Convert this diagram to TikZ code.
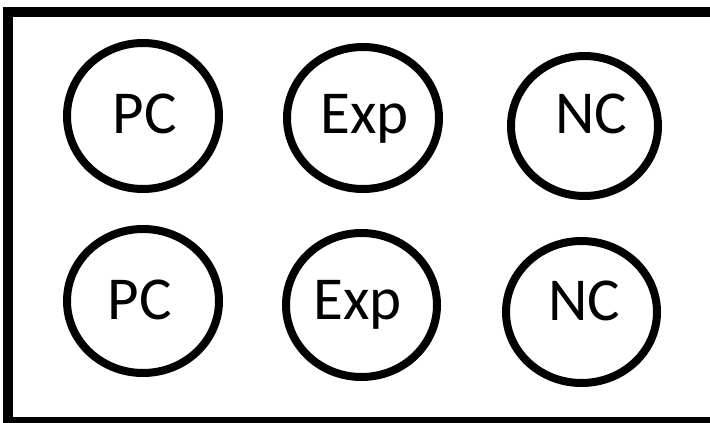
\documentclass[tikz,border=0pt]{standalone}
\usepackage{fontspec}
\setmainfont{Carlito}
\usetikzlibrary{shapes.geometric}
\begin{document}
\begin{tikzpicture}[x=1pt,y=-1pt,
  ring/.style={draw=black,line width=8pt,ellipse,inner sep=0pt,fill=none},
  lbl/.style={anchor=base,inner sep=0pt,font=\fontsize{61}{61}\selectfont}]
\useasboundingbox (0,0) rectangle (710,423);
\draw[line width=10pt] (8,12) rectangle (716,422);
\node[ring,minimum width=152pt,minimum height=146pt] (pc1) at (143,116) {};
\node[ring,minimum width=152pt,minimum height=142pt] (exp1) at (363,118) {};
\node[ring,minimum width=147pt,minimum height=140pt] (nc1) at (584.5,126) {};
\node[ring,minimum width=152pt,minimum height=144pt] (pc2) at (143,301) {};
\node[ring,minimum width=151pt,minimum height=144pt] (exp2) at (361.5,305) {};
\node[ring,minimum width=151pt,minimum height=142pt] (nc2) at (581.5,312) {};
\node[lbl] (tpc1) at (145,133) {PC};
\node[lbl] (texp1) at (364.5,133) {Exp};
\node[lbl] (tnc1) at (591,133) {NC};
\node[lbl] (tpc2) at (140,319) {PC};
\node[lbl] (texp2) at (357.5,319) {Exp};
\node[lbl] (tnc2) at (584,320) {NC};
\end{tikzpicture}
\end{document}
